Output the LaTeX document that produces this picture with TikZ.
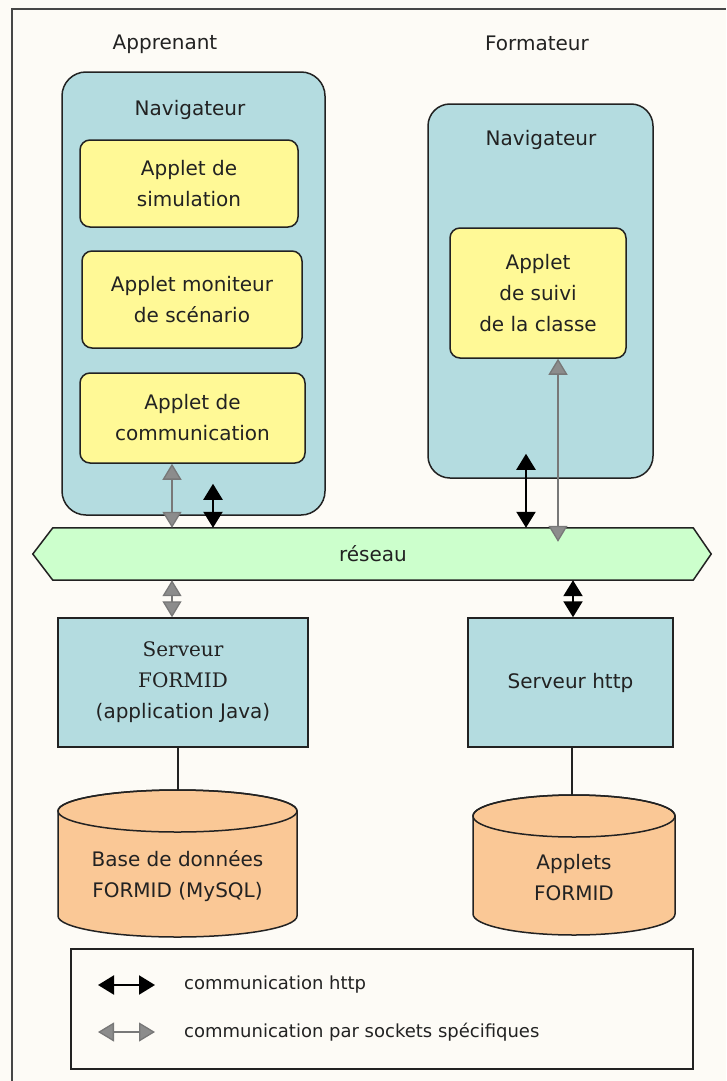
\documentclass[tikz,border=0pt]{standalone}
\usepackage{fontspec}
\setmainfont{DejaVu Sans}
\newfontfamily\serifF{DejaVu Serif}
\usetikzlibrary{arrows.meta,backgrounds,calc}
\definecolor{bgc}{RGB}{253,251,246}
\definecolor{navc}{RGB}{180,220,224}
\definecolor{yelc}{RGB}{255,249,150}
\definecolor{grnc}{RGB}{204,255,204}
\definecolor{peach}{RGB}{250,200,150}
\definecolor{ink}{RGB}{34,34,34}
\definecolor{framec}{RGB}{70,70,70}
\definecolor{arrgray}{RGB}{120,120,120}
\definecolor{arrgrayfill}{RGB}{140,140,140}
\begin{document}
\begin{tikzpicture}[x=1pt,y=-1pt,
  font=\fontsize{20}{31}\selectfont, text=ink,
  navbox/.style={draw=ink, line width=1.5, fill=navc, rounded corners=24, inner sep=0},
  applet/.style={draw=ink, line width=1.5, fill=yelc, rounded corners=10, align=center, inner sep=0},
  srv/.style={draw=ink, line width=1.5, fill=navc, align=center, inner sep=0},
  lbl/.style={align=center, inner sep=0},
  cylbox/.style={fill=peach, draw=ink, line width=1.5},
  httparr/.style={draw=black, line width=2.2, {Triangle[length=16pt,width=19pt]}-{Triangle[length=16pt,width=19pt]}},
  sockarr/.style={draw=arrgray, line width=1.3, {Triangle[length=16pt,width=19pt,fill=arrgrayfill]}-{Triangle[length=16pt,width=19pt,fill=arrgrayfill]}},
  link/.style={draw=ink, line width=1.5}]

\useasboundingbox (0,0) rectangle (726,1081);
\draw[framec, line width=2] (12,1081) -- (12,9) -- (726,9);

% titles
\node[lbl] (app) at (165,44) {Apprenant};
\node[lbl] (form) at (537,43) {Formateur};

% browsers
\node[navbox, minimum width=263, minimum height=443] (nav1) at (193.5,293.5) {};
\node[lbl] (nav1t) at (190,110) {Navigateur};
\node[navbox, rounded corners=22, minimum width=225, minimum height=374] (nav2) at (540.5,291) {};
\node[lbl] (nav2t) at (541,140) {Navigateur};

% applets
\node[applet, minimum width=218, minimum height=87] (sim) at (189,183.5) {Applet de\\simulation};
\node[applet, minimum width=220, minimum height=97] (mon) at (192,299.5) {Applet moniteur\\de sc\'enario};
\node[applet, minimum width=225, minimum height=90] (comm) at (192.5,418) {Applet de\\communication};
\node[applet, minimum width=176, minimum height=130] (suivi) at (538,293) {Applet\\de suivi\\de la classe};

% network
\node[lbl, minimum width=640, minimum height=52] (reseau) at (373,554) {r\'eseau};
\begin{scope}[on background layer]
\fill[bgc] (0,0) rectangle (726,1081);
\draw[ink, line width=1.5, fill=grnc] (reseau.north west) -- (reseau.north east)
  -- ($(reseau.east)+(18,0)$) -- (reseau.south east) -- (reseau.south west)
  -- ($(reseau.west)+(-20,0)$) -- cycle;
\end{scope}

% servers
\node[srv, minimum width=250, minimum height=129] (srvF) at (183,682.5)
  {{\serifF Serveur}\\{\serifF FORMID}\\(application Java)};
\node[srv, minimum width=205, minimum height=129] (srvH) at (570.5,682.5) {Serveur http};

% databases (cylinders)
\draw[cylbox] (58,811) -- (58,916) arc[start angle=180, end angle=0, x radius=119.5, y radius=21]
  -- (297,811) arc[start angle=0, end angle=-180, x radius=119.5, y radius=21] -- cycle;
\draw[ink, line width=1.5] (177.5,811) ellipse[x radius=119.5, y radius=21];
\coordinate (db1top) at (178,790);
\node[lbl] (db1) at (177.5,876) {Base de donn\'ees\\FORMID (MySQL)};

\draw[cylbox] (473,816) -- (473,914) arc[start angle=180, end angle=0, x radius=101, y radius=21]
  -- (675,816) arc[start angle=0, end angle=-180, x radius=101, y radius=21] -- cycle;
\draw[ink, line width=1.5] (574,816) ellipse[x radius=101, y radius=21];
\coordinate (db2top) at (572,795);
\node[lbl] (db2) at (574,878) {Applets\\FORMID};

% x positions of connectors
\coordinate (xa) at (172,0);
\coordinate (xb) at (213,0);
\coordinate (xc) at (526,0);
\coordinate (xd) at (558,0);
\coordinate (xe) at (573,0);
\coordinate (xf) at (178,0);
\coordinate (xg) at (572,0);

% connectors
\draw[sockarr] (comm.south -| xa) -- (reseau.north -| xa);
\draw[httparr] ($(nav1.south -| xb)+(0,-32)$) -- (reseau.north -| xb);
\draw[httparr] ($(nav2.south -| xc)+(0,-25)$) -- (reseau.north -| xc);
\draw[sockarr] (suivi.south -| xd) -- ($(reseau.north -| xd)+(0,14)$);
\draw[sockarr] (reseau.south -| xa) -- (srvF.north -| xa);
\draw[httparr] (reseau.south -| xe) -- (srvH.north -| xe);
\draw[link] (srvF.south -| xf) -- (db1top);
\draw[link] (srvH.south -| xg) -- (db2top);

% legend
\node[draw=ink, line width=1.5, fill=bgc, minimum width=622, minimum height=120, inner sep=0] (legend) at (382,1009) {};
\coordinate (lh1) at (98,985);
\coordinate (lh2) at (155,985);
\coordinate (ls1) at (98,1032);
\coordinate (ls2) at (155,1032);
\draw[httparr] (lh1) -- (lh2);
\draw[sockarr] (ls1) -- (ls2);
\node[anchor=west, inner sep=0, font=\fontsize{18}{22}\selectfont] (lt1) at (184,985) {communication http};
\node[anchor=west, inner sep=0, font=\fontsize{18}{22}\selectfont] (lt2) at (184,1032) {communication par sockets sp\'ecifiques};
\end{tikzpicture}
\end{document}
